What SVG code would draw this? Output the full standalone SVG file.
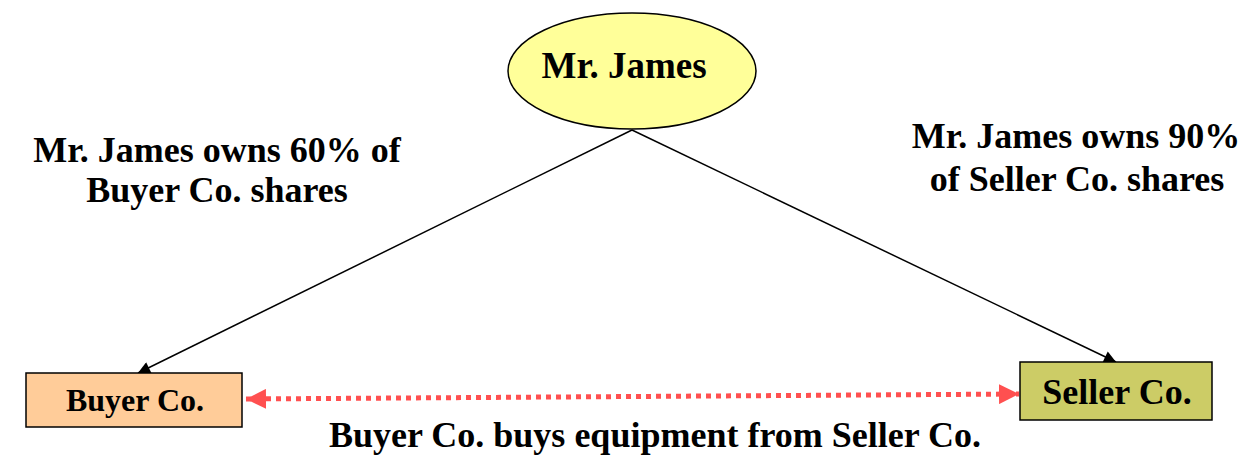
<svg xmlns="http://www.w3.org/2000/svg" width="1253" height="460" viewBox="0 0 1253 460">
<style>
text{font-family:"Liberation Serif","Times New Roman",serif;font-weight:bold;fill:#000;text-anchor:middle}
.lbl{font-size:36px}
.edge{stroke:#000;stroke-width:1.5;fill:none}
.dot{stroke:#FF5050;stroke-width:5;stroke-dasharray:5 5;fill:none}
</style>
<defs>
<marker id="ah" viewBox="0 0 10 10" refX="10" refY="5" markerWidth="16" markerHeight="12" markerUnits="userSpaceOnUse" orient="auto"><path d="M0,0L10,5L0,10z" fill="#000"/></marker>
<marker id="rh" viewBox="0 0 10 10" refX="10" refY="5" markerWidth="20" markerHeight="20" markerUnits="userSpaceOnUse" orient="auto-start-reverse"><path d="M0,0L10,5L0,10z" fill="#FF5050"/></marker>
</defs>
<g id="connectors">
<line class="edge" x1="632" y1="130" x2="138" y2="373" marker-end="url(#ah)"/>
<line class="edge" x1="632" y1="130" x2="1116" y2="362" marker-end="url(#ah)"/>
<line class="dot" x1="246" y1="399" x2="1019" y2="394" marker-start="url(#rh)" marker-end="url(#rh)"/>
</g>
<g id="mr-james">
<ellipse cx="632" cy="71" rx="124" ry="58" fill="#FFFF99" stroke="#000" stroke-width="1.5"/>
<text x="624" y="78" style="font-size:37px">Mr. James</text>
</g>
<g id="buyer">
<rect x="26" y="373" width="216" height="54" fill="#FFCC99" stroke="#000" stroke-width="1.5"/>
<text x="135" y="411" style="font-size:32px">Buyer Co.</text>
</g>
<g id="seller">
<rect x="1020" y="362" width="192" height="58" fill="#CCCC66" stroke="#000" stroke-width="1.5"/>
<text x="1117" y="404" style="font-size:36px">Seller Co.</text>
</g>
<g id="labels">
<text class="lbl" x="217" y="162">Mr. James owns 60% of</text>
<text class="lbl" x="217" y="202">Buyer Co. shares</text>
<text class="lbl" x="1076" y="148">Mr. James owns 90%</text>
<text class="lbl" x="1077" y="191">of Seller Co. shares</text>
<text class="lbl" x="655" y="447">Buyer Co. buys equipment from Seller Co.</text>
</g>
</svg>
